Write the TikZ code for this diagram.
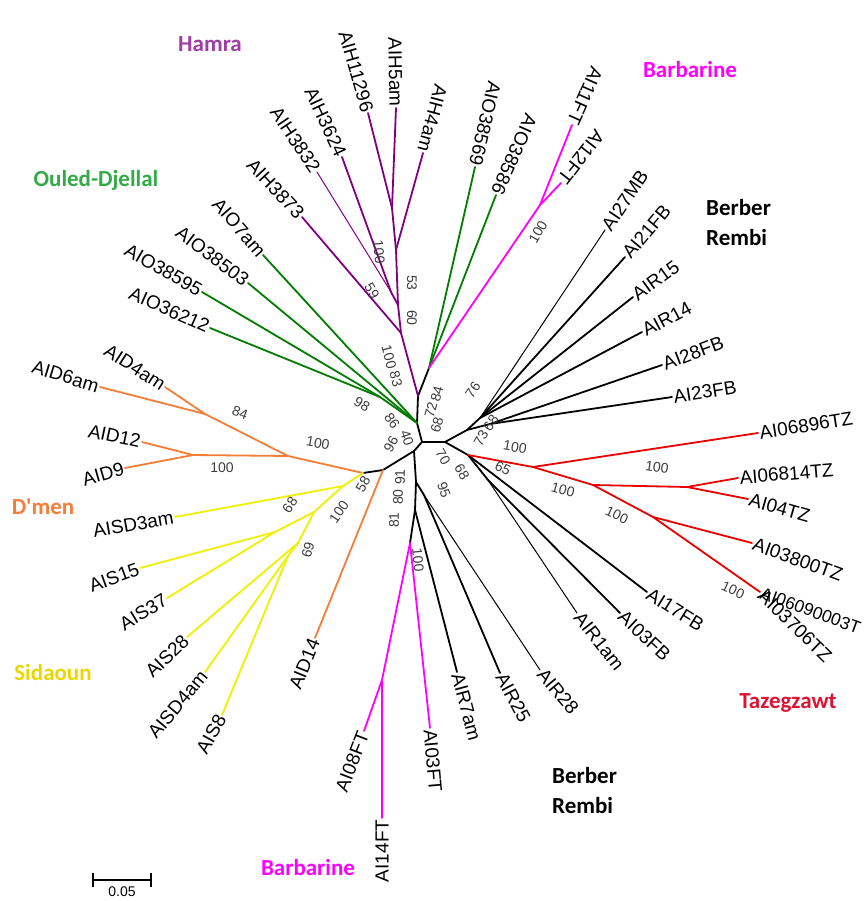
\documentclass[tikz,border=0pt]{standalone}
\usepackage{fontspec}
\setmainfont{Liberation Sans}
\newfontfamily\grpfont{Carlito}
\usetikzlibrary{arrows.meta, positioning, calc}

\definecolor{hamra}{RGB}{128,0,128}
\definecolor{hamralbl}{RGB}{160,60,165}
\definecolor{barb}{RGB}{255,0,255}
\definecolor{odj}{RGB}{0,125,0}
\definecolor{odjlbl}{RGB}{50,170,70}
\definecolor{dmen}{RGB}{245,125,55}
\definecolor{sida}{RGB}{240,240,0}
\definecolor{sidalbl}{RGB}{235,215,0}
\definecolor{taze}{RGB}{235,0,0}
\definecolor{tazelbl}{RGB}{220,20,50}
\definecolor{bootgray}{RGB}{60,60,60}

\begin{document}
\begin{tikzpicture}[
    x=1pt, y=-1pt,
    br/.style={line width=1.8pt, line cap=round},
    thinbr/.style={line width=1pt, line cap=round},
    leaf/.style={font=\fontsize{19}{19}\selectfont, inner sep=1.5pt},
    boot/.style={font=\fontsize{14}{14}\selectfont, text=bootgray, inner sep=0pt},
    grp/.style={font=\grpfont\bfseries\fontsize{23}{30}\selectfont, align=left, inner sep=0pt}
]
    \useasboundingbox (0,0) rectangle (866,901);

    % Hub and inner nodes
    \coordinate (c1) at (422,442);
    \coordinate (c2) at (445,442);
    \coordinate (ntop) at (418,396);
    \coordinate (nodj) at (417,423);
    \coordinate (nlow) at (414,451);
    \coordinate (ndm) at (383,470);
    \coordinate (nds) at (363,473);
    \coordinate (nv1) at (416,482);
    \coordinate (nv2) at (415,510);
    \coordinate (nrr) at (424,495);
    \coordinate (nmg) at (410,543);
    \coordinate (nmg2) at (382,680);
    \coordinate (nu1) at (467,430);
    \coordinate (nu2) at (480,418);
    \coordinate (nu3) at (490,424);
    \coordinate (nrb) at (468,455);
    \coordinate (nb2) at (488,480);
    \coordinate (ngm) at (429,368);
    \coordinate (nbt) at (540,205);
    % Hamra
    \coordinate (nh1) at (392,208);
    \coordinate (nh2) at (396,250);
    \coordinate (nh3) at (391,292);
    \coordinate (nh4) at (398,305);
    \coordinate (nh5) at (401,333);
    % Ouled-Djellal
    \coordinate (no1) at (380,397);
    % D'men
    \coordinate (nd1) at (205,414);
    \coordinate (nd2) at (193,455);
    \coordinate (nd) at (288,456);
    % Sidaoun
    \coordinate (ns1) at (343,486);
    \coordinate (ns2) at (314,512);
    \coordinate (ns3) at (275,532);
    \coordinate (ns4) at (298,543);
    \coordinate (ns5) at (288,556);
    % Tazegzawt
    \coordinate (nt1) at (533,467);
    \coordinate (nt2) at (593,485);
    \coordinate (nt3) at (687,487);
    \coordinate (nt4) at (653,517);

    % Tips
    \coordinate (tAIH11296) at (368,113);
    \coordinate (tAIH5am) at (396,108);
    \coordinate (tAIH4am) at (423,153);
    \coordinate (tAIH3624) at (342,157);
    \coordinate (tAIH3832) at (317,172);
    \coordinate (tAIH3873) at (302,217);
    \coordinate (tAIO7am) at (263,255);
    \coordinate (tAIO38503) at (248,283);
    \coordinate (tAIO38595) at (202,292);
    \coordinate (tAIO36212) at (210,328);
    \coordinate (tAID4am) at (165,387);
    \coordinate (tAID6am) at (100,387);
    \coordinate (tAID12) at (142,442);
    \coordinate (tAID9) at (125,468);
    \coordinate (tAISD3am) at (175,517);
    \coordinate (tAIS15) at (140,568);
    \coordinate (tAIS37) at (167,598);
    \coordinate (tAIS28) at (187,637);
    \coordinate (tAISD4am) at (205,672);
    \coordinate (tAIS8) at (222,715);
    \coordinate (tAID14) at (315,638);
    \coordinate (tAI08FT) at (364,731);
    \coordinate (tAI14FT) at (382,818);
    \coordinate (tAI03FT) at (430,728);
    \coordinate (tAIR7am) at (457,672);
    \coordinate (tAIR25) at (500,673);
    \coordinate (tAIR28) at (540,670);
    \coordinate (tAIR1am) at (577,613);
    \coordinate (tAI03FB) at (620,613);
    \coordinate (tAI17FB) at (647,592);
    \coordinate (tAI0609) at (760,592);
    \coordinate (tAI03800TZ) at (752,543);
    \coordinate (tAI04TZ) at (748,499);
    \coordinate (tAI06814TZ) at (738,478);
    \coordinate (tAI06896TZ) at (758,433);
    \coordinate (tAI23FB) at (672,397);
    \coordinate (tAI28FB) at (662,365);
    \coordinate (tAIR14) at (642,332);
    \coordinate (tAIR15) at (633,297);
    \coordinate (tAI21FB) at (625,257);
    \coordinate (tAI27MB) at (605,230);
    \coordinate (tAI12FT) at (561,183);
    \coordinate (tAI11FT) at (572,125);
    \coordinate (tAIO38586) at (496,195);
    \coordinate (tAIO38569) at (475,167);

    % Black backbone
    \draw[br] (ntop) -- (nodj) -- (c1) -- (c2);
    \draw[br] (ngm) -- (ntop);
    \draw[br] (c1) -- (nlow) -- (ndm) -- (nds);
    \draw[br] (nlow) -- (nv1) -- (nv2) -- (nmg);
    \draw[br] (nv1) -- (nrr) -- (tAIR25);
    \draw[thinbr] (nrr) -- (tAIR28);
    \draw[br] (nv2) -- (tAIR7am);
    \draw[br] (c2) -- (nu1) -- (nu2);
    \draw[br] (nu1) -- (nu3);
    \draw[thinbr] (nu2) -- (tAI27MB);
    \draw[br] (nu2) -- (tAI21FB);
    \draw[br] (nu2) -- (tAIR15);
    \draw[br] (nu2) -- (tAIR14);
    \draw[br] (nu3) -- (tAI28FB);
    \draw[br] (nu3) -- (tAI23FB);
    \draw[br] (c2) -- (nrb) -- (tAI17FB);
    \draw[br] (nrb) -- (nb2) -- (tAI03FB);
    \draw[thinbr] (nb2) -- (tAIR1am);

    % Hamra
    \draw[br, hamra] (nh1) -- (tAIH11296);
    \draw[br, hamra] (nh1) -- (tAIH5am);
    \draw[br, hamra] (nh2) -- (tAIH4am);
    \draw[br, hamra] (nh1) -- (nh2) -- (nh4);
    \draw[br, hamra] (nh3) -- (tAIH3624);
    \draw[thinbr, hamra] (nh3) -- (tAIH3832);
    \draw[br, hamra] (nh3) -- (nh4) -- (nh5) -- (ntop);
    \draw[br, hamra] (nh5) -- (tAIH3873);

    % Upper green pair and Barbarine
    \draw[br, odj] (ngm) -- (tAIO38569);
    \draw[br, odj] (ngm) -- (tAIO38586);
    \draw[br, barb] (ngm) -- (nbt) -- (tAI11FT);
    \draw[br, barb] (nbt) -- (tAI12FT);

    % Ouled-Djellal
    \draw[br, odj] (nodj) -- (tAIO7am);
    \draw[br, odj] (nodj) -- (tAIO38503);
    \draw[br, odj] (nodj) -- (no1) -- (tAIO38595);
    \draw[br, odj] (no1) -- (tAIO36212);

    % D'men
    \draw[br, dmen] (nds) -- (nd) -- (nd1) -- (tAID6am);
    \draw[br, dmen] (nd1) -- (tAID4am);
    \draw[br, dmen] (nd) -- (nd2) -- (tAID12);
    \draw[br, dmen] (nd2) -- (tAID9);
    \draw[br, dmen] (ndm) -- (tAID14);

    % Sidaoun
    \draw[br, sida] (nds) -- (ns1) -- (tAISD3am);
    \draw[br, sida] (ns1) -- (ns2) -- (ns3) -- (tAIS15);
    \draw[br, sida] (ns3) -- (tAIS37);
    \draw[br, sida] (ns2) -- (ns4) -- (tAIS28);
    \draw[br, sida] (ns4) -- (ns5) -- (tAISD4am);
    \draw[br, sida] (ns5) -- (tAIS8);

    % Lower Barbarine
    \draw[br, barb] (nmg) -- (tAI03FT);
    \draw[br, barb] (nmg) -- (nmg2) -- (tAI08FT);
    \draw[br, barb] (nmg2) -- (tAI14FT);

    % Tazegzawt
    \draw[br, taze] (nrb) -- (nt1) -- (tAI06896TZ);
    \draw[br, taze] (nt1) -- (nt2) -- (nt3) -- (tAI06814TZ);
    \draw[br, taze] (nt3) -- (tAI04TZ);
    \draw[br, taze] (nt2) -- (nt4) -- (tAI03800TZ);
    \draw[br, taze] (nt4) -- (tAI0609);

    % Leaf labels
    \node[leaf, rotate=-74, anchor=east] (lAIH11296) at (tAIH11296) {AIH11296};
    \node[leaf, rotate=-89, anchor=east] (lAIH5am) at (tAIH5am) {AIH5am};
    \node[leaf, rotate=-105, anchor=east] (lAIH4am) at (tAIH4am) {AIH4am};
    \node[leaf, rotate=-65, anchor=east] (lAIH3624) at (tAIH3624) {AIH3624};
    \node[leaf, rotate=-56, anchor=east] (lAIH3832) at (tAIH3832) {AIH3832};
    \node[leaf, rotate=-47, anchor=east] (lAIH3873) at (tAIH3873) {AIH3873};
    \node[leaf, rotate=-49, anchor=east] (lAIO7am) at (tAIO7am) {AIO7am};
    \node[leaf, rotate=-37, anchor=east] (lAIO38503) at (tAIO38503) {AIO38503};
    \node[leaf, rotate=-30, anchor=east] (lAIO38595) at (tAIO38595) {AIO38595};
    \node[leaf, rotate=-24, anchor=east] (lAIO36212) at (tAIO36212) {AIO36212};
    \node[leaf, rotate=-33, anchor=east] (lAID4am) at (tAID4am) {AID4am};
    \node[leaf, rotate=-17, anchor=east] (lAID6am) at (tAID6am) {AID6am};
    \node[leaf, rotate=-12, anchor=east] (lAID12) at (tAID12) {AID12};
    \node[leaf, rotate=16, anchor=east] (lAID9) at (tAID9) {AID9};
    \node[leaf, rotate=10, anchor=east] (lAISD3am) at (tAISD3am) {AISD3am};
    \node[leaf, rotate=20, anchor=east] (lAIS15) at (tAIS15) {AIS15};
    \node[leaf, rotate=31, anchor=east] (lAIS37) at (tAIS37) {AIS37};
    \node[leaf, rotate=44, anchor=east] (lAIS28) at (tAIS28) {AIS28};
    \node[leaf, rotate=50, anchor=east] (lAISD4am) at (tAISD4am) {AISD4am};
    \node[leaf, rotate=61, anchor=east] (lAIS8) at (tAIS8) {AIS8};
    \node[leaf, rotate=68, anchor=east] (lAID14) at (tAID14) {AID14};
    \node[leaf, rotate=69, anchor=east] (lAI08FT) at (tAI08FT) {AI08FT};
    \node[leaf, rotate=90, anchor=east] (lAI14FT) at (tAI14FT) {AI14FT};
    \node[leaf, rotate=-85, anchor=west] (lAI03FT) at (tAI03FT) {AI03FT};
    \node[leaf, rotate=-75, anchor=west] (lAIR7am) at (tAIR7am) {AIR7am};
    \node[leaf, rotate=-62, anchor=west] (lAIR25) at (tAIR25) {AIR25};
    \node[leaf, rotate=-50, anchor=west] (lAIR28) at (tAIR28) {AIR28};
    \node[leaf, rotate=-52, anchor=west] (lAIR1am) at (tAIR1am) {AIR1am};
    \node[leaf, rotate=-43, anchor=west] (lAI03FB) at (tAI03FB) {AI03FB};
    \node[leaf, rotate=-32, anchor=west] (lAI17FB) at (tAI17FB) {AI17FB};
    \node[leaf, rotate=-44, anchor=west] (lAI03706TZ) at (tAI0609) {AI03706TZ};
    \node[leaf, rotate=-20, anchor=west, font=\fontsize{17.5}{17.5}\selectfont, inner sep=1pt] (lAI06090003T) at (tAI0609) {AI06090003T};
    \node[leaf, rotate=-20, anchor=west] (lAI03800TZ) at (tAI03800TZ) {AI03800TZ};
    \node[leaf, rotate=-16, anchor=west] (lAI04TZ) at (tAI04TZ) {AI04TZ};
    \node[leaf, rotate=5, anchor=west] (lAI06814TZ) at (tAI06814TZ) {AI06814TZ};
    \node[leaf, rotate=9, anchor=west] (lAI06896TZ) at (tAI06896TZ) {AI06896TZ};
    \node[leaf, rotate=9, anchor=west] (lAI23FB) at (tAI23FB) {AI23FB};
    \node[leaf, rotate=21, anchor=west] (lAI28FB) at (tAI28FB) {AI28FB};
    \node[leaf, rotate=28, anchor=west] (lAIR14) at (tAIR14) {AIR14};
    \node[leaf, rotate=36, anchor=west] (lAIR15) at (tAIR15) {AIR15};
    \node[leaf, rotate=50, anchor=west] (lAI21FB) at (tAI21FB) {AI21FB};
    \node[leaf, rotate=56, anchor=west] (lAI27MB) at (tAI27MB) {AI27MB};
    \node[leaf, rotate=-128, anchor=east] (lAI12FT) at (tAI12FT) {AI12FT};
    \node[leaf, rotate=-114, anchor=east] (lAI11FT) at (tAI11FT) {AI11FT};
    \node[leaf, rotate=-114, anchor=east] (lAIO38586) at (tAIO38586) {AIO38586};
    \node[leaf, rotate=-103, anchor=east] (lAIO38569) at (tAIO38569) {AIO38569};

    % Bootstrap values
    \node[boot, rotate=-85] (b1) at (379,252) {100};
    \node[boot, rotate=-60] (b2) at (372,291) {59};
    \node[boot, rotate=-90] (b3) at (412,283) {53};
    \node[boot, rotate=-90] (b4) at (412,318) {60};
    \node[boot, rotate=-75] (b5) at (389,357) {100};
    \node[boot, rotate=-75] (b6) at (396,379) {83};
    \node[boot, rotate=-30] (b7) at (362,404) {98};
    \node[boot, rotate=75] (b8) at (437,394) {84};
    \node[boot, rotate=75] (b9) at (431,410) {72};
    \node[boot, rotate=75] (b10) at (437,425) {68};
    \node[boot, rotate=-55] (b11) at (392,421) {86};
    \node[boot, rotate=60] (b12) at (391,444) {96};
    \node[boot, rotate=-70] (b13) at (407,438) {40};
    \node[boot, rotate=90] (b14) at (400,477) {91};
    \node[boot, rotate=90] (b15) at (398,497) {80};
    \node[boot, rotate=90] (b16) at (394,520) {81};
    \node[boot, rotate=-70] (b17) at (444,490) {95};
    \node[boot, rotate=60] (b18) at (363,484) {58};
    \node[boot, rotate=55] (b19) at (339,512) {100};
    \node[boot, rotate=55] (b20) at (290,505) {68};
    \node[boot, rotate=75] (b21) at (308,550) {69};
    \node[boot, rotate=-85] (b22) at (418,560) {100};
    \node[boot, rotate=60] (b23) at (538,232) {100};
    \node[boot, rotate=-10] (b24) at (318,443) {100};
    \node[boot, rotate=-20] (b25) at (240,413) {84};
    \node[boot] (b26) at (222,468) {100};
    \node[boot, rotate=55] (b27) at (473,390) {76};
    \node[boot, rotate=60] (b28) at (481,438) {73};
    \node[boot, rotate=55] (b29) at (491,423) {68};
    \node[boot, rotate=-60] (b30) at (443,457) {70};
    \node[boot, rotate=-60] (b31) at (462,472) {68};
    \node[boot, rotate=-10] (b32) at (515,447) {100};
    \node[boot, rotate=-25] (b33) at (503,468) {65};
    \node[boot, rotate=-8] (b34) at (657,467) {100};
    \node[boot, rotate=-15] (b35) at (563,490) {100};
    \node[boot, rotate=-25] (b36) at (617,515) {100};
    \node[boot, rotate=-25] (b37) at (733,590) {100};

    % Group names
    \node[grp, text=hamralbl] (gHamra) at (210,44) {Hamra};
    \node[grp, text=barb] (gBarbTop) at (690,70) {Barbarine};
    \node[grp, text=odjlbl] (gOdj) at (96,180) {Ouled-Djellal};
    \node[grp, anchor=west] (gBerbTop) at (706,223) {Berber\\Rembi};
    \node[grp, text=dmen] (gDmen) at (43,507) {D'men};
    \node[grp, text=sidalbl] (gSida) at (53,673) {Sidaoun};
    \node[grp, text=tazelbl] (gTaze) at (788,703) {Tazegzawt};
    \node[grp, anchor=west] (gBerbLow) at (552,791) {Berber\\Rembi};
    \node[grp, text=barb] (gBarbLow) at (308,868) {Barbarine};

    % Scale bar
    \coordinate (sbl) at (92,880);
    \coordinate (sbr) at (152,880);
    \draw[{Bar[width=14pt]}-{Bar[width=14pt]}, line width=1.6pt] (sbl) -- (sbr);
    \node[boot, text=black] (sbt) at ($(sbl)!0.5!(sbr)+(0,12)$) {0.05};
\end{tikzpicture}
\end{document}
